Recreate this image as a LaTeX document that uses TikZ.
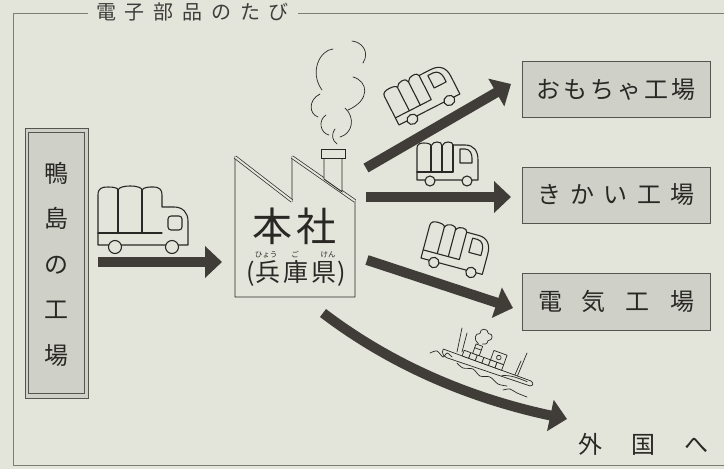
\documentclass[tikz,border=0pt]{standalone}
\usepackage{fontspec}
\newfontfamily\jp{Noto Sans CJK JP}
\usetikzlibrary{arrows.meta}
\definecolor{paper}{RGB}{227,229,219}
\definecolor{panel}{RGB}{207,209,201}
\definecolor{ink}{RGB}{42,40,37}
\definecolor{flowc}{RGB}{64,60,56}
\definecolor{rulec}{RGB}{125,125,118}
\definecolor{edge}{RGB}{85,85,80}

\tikzset{
  % van with a tall cab, origin at the rear bottom corner, y grows downward
  van/.pic={
    \draw[doodle, fill=paper] (0,0) -- (0,-32)
      .. controls (0,-36) and (3,-37) .. (7,-37)
      .. controls (11,-37) and (14,-36) .. (14,-34)
      .. controls (15,-37) and (18,-38) .. (20,-38)
      .. controls (23,-38) and (25,-37) .. (25,-34)
      .. controls (26,-37) and (29,-38) .. (31,-38)
      .. controls (34,-38) and (36,-37) .. (36,-35)
      -- (48,-35) .. controls (57,-35) and (61,-29) .. (61,-20)
      -- (61,0) -- cycle;
    \draw[doodle] (0,-8) -- (36,-8) -- (36,-35);
    \draw[doodle] (14,-34) -- (14,-8);
    \draw[doodle] (25,-34) -- (25,-8);
    \draw[doodle] (43,-17) -- (43,-31) -- (48,-31)
      .. controls (53,-31) and (55,-26) .. (55,-22) -- (55,-17) -- cycle;
    \draw[wheel] (13,1) circle (5);
    \draw[wheel] (50,1) circle (5);
  },
  % lorry with a low cab
  lorry/.pic={
    \draw[doodle, fill=paper] (0,0) -- (0,-50)
      .. controls (0,-57) and (4,-58) .. (10,-58)
      .. controls (16,-58) and (20,-57) .. (20,-55)
      .. controls (21,-58) and (27,-59) .. (32,-59)
      .. controls (40,-59) and (44,-57) .. (44,-55)
      .. controls (46,-58) and (51,-58) .. (55,-58)
      .. controls (62,-58) and (64,-55) .. (64,-50)
      -- (64,-38) -- (76,-38) .. controls (85,-38) and (90,-32) .. (90,-24)
      -- (90,0) -- cycle;
    \draw[doodle] (0,-12) -- (64,-12);
    \draw[doodle] (20,-55) -- (20,-12);
    \draw[doodle] (44,-55) -- (44,-12);
    \draw[doodle, rounded corners=3pt] (70,-15) rectangle (84,-29);
    \draw[wheel] (17,2) circle (6.5);
    \draw[wheel] (74,2) circle (6.5);
  }
}

\begin{document}
\begin{tikzpicture}[x=1pt,y=-1pt,
  flow/.style={draw=flowc, line width=10pt, -{Triangle[width=31pt,length=17pt]}},
  doodle/.style={draw=ink, line width=1.1pt, line join=round, line cap=round},
  fine/.style={draw=ink, line width=0.7pt, line join=round, line cap=round},
  wheel/.style={doodle, fill=paper},
  wall/.style={draw=ink, line width=0.9pt},
  roof/.style={draw=ink, line width=0.7pt, double=paper, double distance=2pt},
  framerule/.style={draw=rulec, line width=0.6pt},
  plant/.style={draw=edge, fill=panel, line width=0.7pt, minimum width=188pt,
    minimum height=56pt, inner sep=0pt, text=ink,
    font=\jp\fontsize{24}{24}\selectfont},
  label/.style={inner sep=0pt, text=ink}
]
\useasboundingbox (0,0) rectangle (724,469);
\fill[paper] (0,0) rectangle (724,469);

% page frame with its title
\draw[framerule] (88,13) -- (13,13) -- (13,465) -- (724,465);
\draw[framerule] (298,13) -- (724,13);
\node[label, text=ink!90] (title) at (192.5,11.5)
  {\jp\fontsize{20}{20}\selectfont 電\hspace{8.8pt}子\hspace{8.8pt}部\hspace{8.8pt}品\hspace{8.8pt}の\hspace{8.8pt}た\hspace{8.8pt}び};

% source factory
\node[draw=edge, fill=panel, line width=0.7pt, minimum width=63pt,
  minimum height=270pt, inner sep=0pt] (src) at (56.5,263) {};
\draw[draw=edge, line width=0.7pt] ([shift={(4,5)}]src.north west)
  rectangle ([shift={(-4,-5)}]src.south east);
\node[label, align=center, font=\jp\fontsize{24}{45.5}\selectfont] (srctext)
  at (56,264) {鴨\\島\\の\\工\\場};

% destination factories
\node[plant] (toy) at (616,89.5)
  {お\hspace{3pt}も\hspace{3pt}ち\hspace{3pt}ゃ\hspace{3pt}工\hspace{3pt}場};
\node[plant] (mach) at (616,195)
  {き\hspace{9.5pt}か\hspace{9.5pt}い\hspace{9.5pt}工\hspace{9.5pt}場};
\node[plant, minimum height=57pt] (elec) at (616,301.5)
  {電\hspace{20pt}気\hspace{20pt}工\hspace{20pt}場};
\node[label, font=\jp\fontsize{24}{24}\selectfont] (abroad) at (643.5,444)
  {外\hspace{29.5pt}国\hspace{29.5pt}へ};

% head office building
\draw[wall, fill=paper] (235,157) -- (235,297) -- (355,297) -- (355,201)
  -- (292,157) -- (292,201) -- cycle;
\draw[roof] (235,157) -- (292,201);
\draw[roof] (292,157) -- (355,201);
\draw[wall, fill=paper] (324,158) -- (324,179) -- (342,191.8) -- (342,158);
\draw[wall, fill=paper] (321,149) rectangle (345,158);
\node[label, font=\jp\fontsize{40}{40}\selectfont] (hq) at (294.5,226)
  {本\hspace{4pt}社};
\node[label, font=\jp\fontsize{25}{25}\selectfont] (pref) at (296,273)
  {(\hspace{1pt}兵\hspace{3pt}庫\hspace{3pt}県\hspace{1pt})};
\node[label, font=\jp\fontsize{7.5}{7.5}\selectfont] (r1) at (266,254.5) {ひょう};
\node[label, font=\jp\fontsize{7.5}{7.5}\selectfont] (r2) at (295,254.5) {ご};
\node[label, font=\jp\fontsize{7.5}{7.5}\selectfont] (r3) at (328,254.5) {けん};

% smoke from the chimney
\draw[fine] (333,49) .. controls (320,50) and (309,72) .. (322,90);
\draw[fine] (352,41) .. controls (362,42) and (370,52) .. (363,63);
\draw[fine] (353,77) .. controls (368,81) and (371,100) .. (348,110);
\draw[fine] (320,94) .. controls (308,100) and (309,114) .. (318,117);
\draw[fine] (326,115) .. controls (318,120) and (320,133) .. (329,135);
\draw[fine] (345,108) .. controls (356,118) and (352,134) .. (340,137);
\draw[fine] (335,129) .. controls (331,135) and (332,140) .. (337,144);

% transport routes
\coordinate (a0s) at (98,262);   \coordinate (a0e) at (222,262);
\coordinate (a1s) at (366,168);  \coordinate (a1e) at (511,84);
\coordinate (a2s) at (366,197);  \coordinate (a2e) at (511,197);
\coordinate (a3s) at (367,260);  \coordinate (a3e) at (513,308);
\coordinate (a4s) at (323,313);  \coordinate (a4e) at (567,419);
\draw[flow] (a0s) -- (a0e);
\draw[flow] (a1s) -- (a1e);
\draw[flow] (a2s) -- (a2e);
\draw[flow] (a3s) -- (a3e);
\draw[flow] (a4s) .. controls (365,345) and (440,392) .. (a4e);

% trucks
\pic at (98,245) {lorry};
\pic[rotate=27, xscale=1.12, yscale=1.0] at (399,125) {van};
\pic at (417,180) {van};
\pic[rotate=-15, xscale=1.04, yscale=1.05] at (421,258) {van};

% ship
\draw[fine] (462,328) -- (457,352);
\draw[fine] (467,333) -- (462,352);
\draw[fine] (527,353) -- (517,377);
\draw[fine] (521,361) -- (514,377);
\begin{scope}[shift={(443,350)}, rotate=-20]
  \draw[fine, fill=paper] (0,-1) -- (93,-1) .. controls (97,0) and (97,3) .. (94,4)
    -- (6,6) .. controls (3,6) and (1,4) .. (0,2) -- cycle;
  \draw[fine] (64,4) .. controls (71,0.5) and (80,0.5) .. (90,1);
  \foreach \i in {0,...,5}
    \draw[fine, fill=paper] (20+7*\i,-7) rectangle (27+7*\i,-1);
  \draw[fine, fill=paper] (48,-17) rectangle (62,-7);
  \draw[fine] (55,-12) circle (2.3);
  \draw[fine, fill=paper] (29,-17) rectangle (36,-7);
  \draw[fine] (29,-13) -- (36,-13);
  \draw[fine] (31,-18) .. controls (25,-20) and (24,-27) .. (29,-28)
    .. controls (27,-34) and (35,-36) .. (37,-31)
    .. controls (42,-33) and (44,-26) .. (39,-24)
    .. controls (40,-21) and (37,-19) .. (35,-19);
\end{scope}
\draw[fine] plot[smooth] coordinates {(430,353) (437,351) (443,357) (447,353) (452,357)};
\draw[fine] plot[smooth] coordinates {(457,363) (463,368) (473,369) (480,376) (490,377) (498,384) (507,386)};
\draw[fine] plot[smooth] coordinates {(503,390) (510,389) (517,393) (527,397)};
\end{tikzpicture}
\end{document}
